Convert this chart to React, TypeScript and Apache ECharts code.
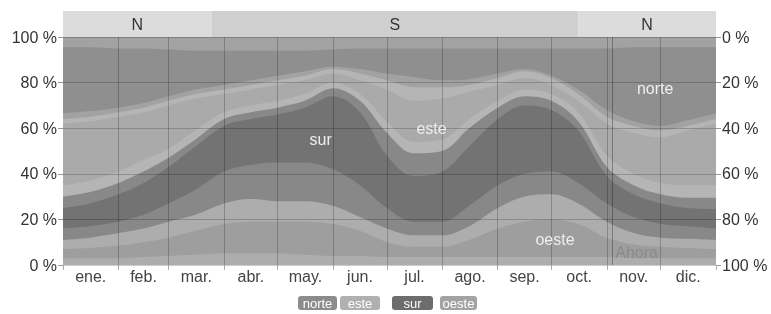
import React, { useEffect, useRef } from 'react';
import * as echarts from 'echarts';

// Day of year for each sample
const dias = [0, 15, 31, 45, 59, 74, 90, 105, 120, 135, 151, 166, 181, 196, 212, 227, 243, 258, 273, 288, 304, 319, 334, 349, 365];

// Cumulative upper limit (%) of each band, stacked from the bottom
const limNoroesteO = [3, 3, 3, 3.5, 4, 4.5, 5, 5, 5, 4.5, 4, 4, 3.5, 3.5, 3.5, 3.5, 3.5, 3.5, 3.5, 3.5, 3.5, 3, 3, 3, 3];
const limOeste = [7, 7.5, 8.5, 10, 12, 15, 18, 19, 19, 19, 18, 15, 10, 8, 8, 11, 16, 19, 20, 18, 12, 9, 8, 7.5, 7];
const limSuroesteO = [11, 12, 14, 16, 19, 22, 27, 29, 28, 28, 26, 21, 16, 13, 13, 17, 25, 30, 31, 27, 19, 14, 12, 11.5, 11];
const limSuroesteS = [16, 17, 19, 22, 27, 33, 41, 44, 45, 45, 42, 35, 25, 19, 19, 26, 35, 40, 41, 36, 27, 21, 18, 17, 16];
const limSur = [25, 27, 31, 36, 43, 52, 61, 64, 66, 69, 74, 67, 48, 39, 41, 52, 64, 70, 68, 59, 39, 31, 27, 25, 24.5];
const limSuresteS = [30, 32, 36, 41, 47, 55, 64, 67, 69, 72, 77.5, 72, 58, 49, 50, 60, 69, 74, 72, 63, 43, 35, 31, 29.5, 29.5];
const limSuresteE = [35, 37, 41, 46, 51, 59, 67, 70, 72, 75, 80, 75, 63, 54, 55, 64, 72, 77, 75, 67, 48, 40, 36, 35, 35];
const limEste = [62, 63, 65, 67, 70, 73, 75, 77, 79, 81, 84, 81, 77, 72, 73, 76, 79, 82, 79, 72, 62, 58, 56, 59, 62];
const limNoresteE = [64, 65, 67, 69, 72, 75, 77, 79, 81, 83, 86, 84, 81, 78, 78, 79, 82, 85, 82, 75, 65, 61, 59, 61, 64];
const limNoresteN = [66.5, 67.5, 69, 71, 74, 77, 79, 81, 83, 85, 87, 86, 84, 82.5, 81, 81.5, 84, 86, 83, 77, 68, 63, 61, 63.5, 66.5];
const limNorte = [95.5, 95.5, 95, 95, 94.5, 94, 94, 94, 94, 94, 94.5, 95, 95, 95, 95, 95, 95, 95, 95, 95, 95, 95.5, 95.5, 95.5, 95.5];

const monthStarts = [0, 31, 59, 90, 120, 151, 181, 212, 243, 273, 304, 334, 365];
const monthMids = [15.5, 45, 74.5, 105, 135.5, 166, 196.5, 227.5, 258, 288.5, 319, 349.5];
const monthLabels = ['ene.', 'feb.', 'mar.', 'abr.', 'may.', 'jun.', 'jul.', 'ago.', 'sep.', 'oct.', 'nov.', 'dic.'];

const seasonStart = [0, 83, 288];
const seasonEnd = [83, 288, 365];
const seasonLabel = ['N', 'S', 'N'];

const ahoraDia = 307;

const dirNames = ['norte', 'este', 'sur', 'oeste'];
const dirLabelDay = [331, 206, 144, 275];
const dirLabelPct = [77.5, 60, 55, 11];

const C = {
  norte: '#8f8f8f',
  norteClaro: '#a2a2a2',
  este: '#aaaaaa',
  esteClaro: '#b5b5b5',
  sur: '#737373',
  surClaro: '#888888',
  oeste: '#9e9e9e',
  oesteClaro: '#adadad',
};
const legendColors = ['#8c8c8c', '#b0b0b0', '#6d6d6d', '#a3a3a3'];
const legendX = [298, 340, 392, 440];
const legendW = [39, 40, 41, 37];

export default function App() {
  const ref = useRef<HTMLDivElement>(null);
  useEffect(() => {
    const chart = echarts.init(ref.current!, null, { renderer: 'svg' });
    const font = '"Liberation Sans", Arial, sans-serif';
    const bandas = [
      { n: 'norte', d: limNorte, c: C.norte },
      { n: 'noreste-n', d: limNoresteN, c: C.norteClaro },
      { n: 'noreste-e', d: limNoresteE, c: C.esteClaro },
      { n: 'este', d: limEste, c: C.este },
      { n: 'sureste-e', d: limSuresteE, c: C.esteClaro },
      { n: 'sureste-s', d: limSuresteS, c: C.surClaro },
      { n: 'sur', d: limSur, c: C.sur },
      { n: 'suroeste-s', d: limSuroesteS, c: C.surClaro },
      { n: 'suroeste-o', d: limSuroesteO, c: C.oesteClaro },
      { n: 'oeste', d: limOeste, c: C.oeste },
      { n: 'noroeste-o', d: limNoroesteO, c: C.oesteClaro },
    ];
    const series: any[] = bandas.map((b) => ({
      type: 'line',
      name: b.n,
      data: dias.map((d, i) => [d, b.d[i]]),
      smooth: 0.35,
      symbol: 'none',
      showSymbol: false,
      silent: true,
      lineStyle: { width: 0 },
      areaStyle: { color: b.c, opacity: 1 },
      xAxisIndex: 0,
      yAxisIndex: 0,
      z: 2,
    }));
    series.push({
      type: 'line',
      name: 'marcas',
      data: [],
      xAxisIndex: 0,
      yAxisIndex: 0,
      z: 4,
      silent: true,
      markLine: {
        silent: true,
        symbol: 'none',
        animation: false,
        label: { show: false },
        lineStyle: { color: 'rgba(0,0,0,0.22)', width: 1, type: 'solid' },
        data: monthStarts
          .slice(1, -1)
          .map((d) => ({ xAxis: d }))
          .concat([{ xAxis: ahoraDia, lineStyle: { color: 'rgba(0,0,0,0.3)', width: 1, type: 'solid' } } as any]),
      },
      markPoint: {
        silent: true,
        animation: false,
        symbol: 'circle',
        symbolSize: 0,
        data: dirNames
          .map((n, i) => ({
            name: n,
            coord: [dirLabelDay[i], dirLabelPct[i]],
            label: { show: true, position: 'inside', formatter: n, color: '#eeeeee', fontSize: 16, fontFamily: font },
          }))
          .concat([
            {
              name: 'Ahora',
              coord: [ahoraDia, 5.7],
              label: { show: true, position: 'right', distance: 3, formatter: 'Ahora', color: '#8a8a8a', fontSize: 16, fontFamily: font },
            } as any,
          ]),
      },
    });
    series.push({
      type: 'custom',
      xAxisIndex: 1,
      yAxisIndex: 2,
      silent: true,
      data: seasonLabel.map((l, i) => [seasonStart[i], seasonEnd[i], i]),
      renderItem: (params: any, api: any) => {
        const s = api.value(0);
        const e = api.value(1);
        const idx = api.value(2);
        const p0 = api.coord([s, 1]);
        const p1 = api.coord([e, 0]);
        const lab = seasonLabel[idx];
        return {
          type: 'rect',
          shape: { x: p0[0], y: p0[1], width: p1[0] - p0[0], height: p1[1] - p0[1] },
          style: { fill: lab === 'N' ? '#dcdcdc' : '#cfcfcf' },
          textContent: { style: { text: lab, fill: '#333', font: '16px ' + font } },
          textConfig: { position: 'inside' },
        };
      },
    });

    chart.setOption({
      animation: false,
      grid: [
        { left: 63, right: 55, top: 37, bottom: 49, show: true, backgroundColor: C.norteClaro, borderWidth: 0 },
        { left: 63, right: 55, top: 11, height: 26 },
      ],
      xAxis: [
        {
          type: 'value',
          gridIndex: 0,
          min: 0,
          max: 365,
          z: 3,
          axisLine: { show: true, lineStyle: { color: '#cccccc' } },
          axisTick: { show: true, customValues: monthStarts, length: 5, lineStyle: { color: '#aaaaaa' } },
          axisLabel: {
            customValues: monthMids,
            formatter: (v: number) => {
              const i = monthMids.findIndex((m) => Math.abs(m - v) < 0.01);
              return i >= 0 ? monthLabels[i] : '';
            },
            color: '#444',
            fontSize: 16,
            fontFamily: font,
            margin: 3,
          },
          splitLine: { show: false },
        },
        { type: 'value', gridIndex: 1, min: 0, max: 365, show: false },
      ],
      yAxis: [
        {
          type: 'value',
          gridIndex: 0,
          min: 0,
          max: 100,
          interval: 20,
          position: 'left',
          z: 3,
          axisLine: { show: false },
          axisTick: { show: true, length: 5, lineStyle: { color: '#999' } },
          axisLabel: { formatter: '{value} %', color: '#333', fontSize: 16, fontFamily: font, margin: 6 },
          splitLine: { show: true, lineStyle: { color: 'rgba(0,0,0,0.2)' } },
        },
        {
          type: 'value',
          gridIndex: 0,
          min: 0,
          max: 100,
          interval: 20,
          inverse: true,
          position: 'right',
          z: 3,
          axisLine: { show: false },
          axisTick: { show: true, length: 5, lineStyle: { color: '#999' } },
          axisLabel: { formatter: '{value} %', color: '#333', fontSize: 16, fontFamily: font, margin: 6 },
          splitLine: { show: false },
        },
        { type: 'value', gridIndex: 1, min: 0, max: 1, show: false },
      ],
      graphic: dirNames.map((n, i) => ({
        type: 'group',
        left: legendX[i],
        top: 296,
        children: [
          { type: 'rect', shape: { x: 0, y: 0, width: legendW[i], height: 14, r: 3 }, style: { fill: legendColors[i] } },
          {
            type: 'text',
            style: { text: n, x: legendW[i] / 2, y: 7, align: 'center', verticalAlign: 'middle', fill: '#ffffff', font: '13px ' + font },
          },
        ],
      })),
      series,
    });
    return () => chart.dispose();
  }, []);
  return <div ref={ref} style={{ position: 'fixed', left: 0, top: 0, width: 771, height: 314 }} />;
}
